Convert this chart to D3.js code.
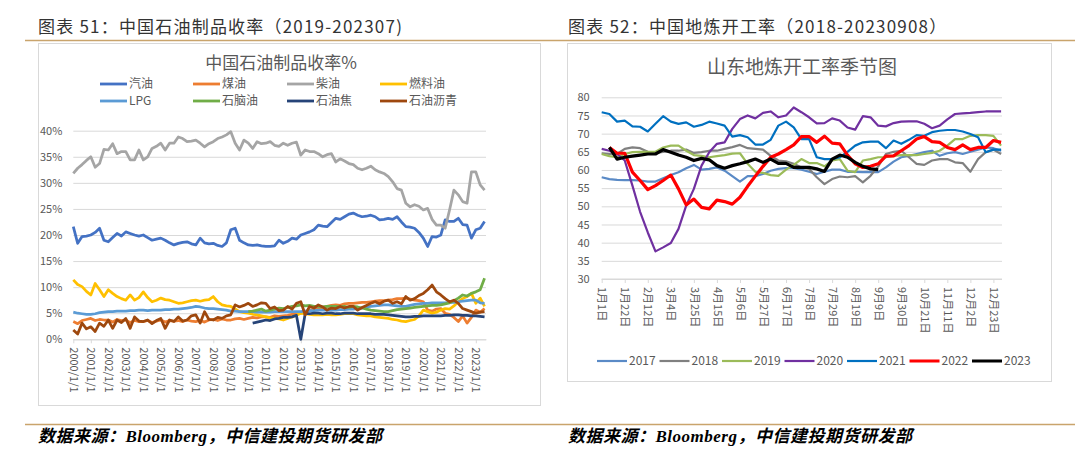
<!DOCTYPE html>
<html>
<head>
<meta charset="utf-8">
<script src="https://cdn.jsdelivr.net/npm/d3@7"></script>
<style>
  body { margin: 0; background: #fff; }
  svg { display: block; font-family: "Noto Sans CJK SC", "Noto Sans", sans-serif; }
</style>
</head>
<body>
<svg id="chart" width="1080" height="465"></svg>
<script>
// ---- left panel: quarterly yields (%), 2000Q1 .. 2023Q3 ----
const gasoline = [21.6,18.4,19.7,19.8, 20.0,20.5,21.3,19.0, 18.7,19.5,20.3,19.8, 20.6,20.3,20.0,19.8,
  20.0,19.5,19.0,19.2, 19.4,19.0,18.5,18.1, 18.4,18.6,18.7,18.3, 18.1,19.4,18.5,18.3,
  18.4,18.0,17.8,18.5, 21.0,21.3,19.0,18.5, 18.1,18.0,18.1,17.9, 17.8,17.8,17.9,19.0,
  18.4,18.8,19.4,19.2, 20.0,20.3,20.6,21.0, 21.9,21.7,21.6,22.4, 23.2,23.0,23.5,24.0,
  24.2,23.8,23.5,23.6, 23.8,23.5,22.9,23.0, 23.2,23.0,23.5,22.5, 21.6,21.5,21.3,20.5,
  19.4,17.8,19.7,19.6, 20.0,22.9,22.6,22.6, 23.2,22.0,21.9,19.4, 21.0,21.3,22.6];
const kerosene = [3.4,3.0,3.6,3.8, 4.0,3.6,3.8,3.7, 3.7,3.3,3.8,3.6, 3.7,3.2,3.6,3.4,
  3.4,3.6,3.2,3.5, 3.7,3.3,3.6,3.5, 3.6,3.4,3.7,3.5, 3.4,3.6,3.3,3.7,
  3.8,3.6,3.9,3.7, 3.7,3.9,4.0,3.8, 4.0,4.2,4.1,4.3, 4.3,4.2,4.5,4.4,
  4.5,4.6,4.8,4.9, 5.0,5.3,5.6,5.7, 5.9,6.1,6.3,6.5, 6.6,6.5,6.8,6.9,
  6.9,7.0,7.1,7.1, 7.2,7.3,7.4,7.4, 7.5,7.6,7.8,7.8, 7.9,7.7,7.5,7.4,
  7.2,5.6,5.4,5.8, 5.9,5.0,4.8,4.2, 3.4,4.5,3.1,4.2, 5.6,5.2,5.9];
const diesel = [31.8,32.8,33.5,34.3, 35.0,33.0,33.7,36.4, 36.3,37.5,35.6,36.0, 36.0,34.4,34.4,36.3,
  34.4,35.0,36.6,37.0, 37.6,36.3,37.6,37.6, 38.8,38.5,37.9,38.0, 38.2,37.6,36.9,37.5,
  37.9,38.5,38.8,39.2, 39.8,37.6,36.3,38.2, 37.6,36.6,37.9,37.5, 37.6,37.9,37.2,37.0,
  37.6,37.2,37.6,37.8, 35.3,36.3,36.0,36.0, 35.6,35.0,35.4,35.6, 34.0,34.6,34.2,33.7,
  33.5,32.8,32.5,32.8, 33.2,32.5,32.1,31.8, 31.2,30.2,28.9,28.6, 26.1,25.4,25.8,25.5,
  24.8,25.1,23.0,21.9, 21.9,21.3,24.8,28.6, 27.7,26.4,26.1,32.1, 32.1,29.6,28.6];
const fuelOil = [11.4,10.5,10.1,9.2, 8.5,10.7,9.5,8.2, 9.5,8.8,8.2,7.8, 7.5,8.5,7.5,8.0,
  9.1,8.0,7.2,7.5, 7.9,7.6,7.5,7.2, 6.9,7.0,7.2,7.4, 7.5,7.3,7.5,7.6,
  8.2,7.2,6.6,6.4, 6.3,5.8,5.3,5.1, 5.0,4.8,4.7,4.5, 4.3,4.1,4.0,3.9,
  3.7,4.0,4.3,4.6, 5.0,4.9,4.8,4.7, 4.7,4.7,4.8,4.7, 4.7,4.8,4.9,4.9,
  4.9,4.7,4.6,4.5, 4.5,4.3,4.2,4.1, 4.0,3.8,3.7,3.5, 3.4,3.6,3.8,4.5,
  5.6,5.3,5.0,5.2, 5.6,5.9,5.8,6.4, 7.2,7.8,8.2,8.8, 6.9,7.9,6.3];
const lpg = [5.2,5.0,4.9,4.8, 4.8,4.9,5.1,5.2, 5.3,5.3,5.4,5.4, 5.4,5.5,5.5,5.6,
  5.6,5.5,5.6,5.6, 5.6,5.7,5.7,5.8, 5.8,5.9,6.0,6.1, 6.3,6.2,6.0,5.9,
  5.9,5.8,5.7,5.6, 5.4,5.4,5.3,5.3, 5.3,5.3,5.2,5.2, 5.2,5.2,5.3,5.3,
  5.3,5.3,5.3,5.3, 5.3,5.4,5.5,5.5, 5.6,5.6,5.6,5.6, 5.6,5.7,5.7,5.8,
  5.8,5.9,6.0,6.2, 6.3,6.4,6.5,6.6, 6.6,6.5,6.4,6.3, 6.3,6.5,6.7,6.8,
  6.9,6.9,7.0,7.0, 7.0,7.0,7.1,7.1, 7.2,7.3,7.4,7.5, 7.5,7.0,6.9];
// naphtha from 2010Q1, petroleum coke from 2010Q2
const naphtha = [5.3,5.4,5.6,5.8, 5.4,5.6,5.8,6.0, 5.9,6.1,6.3,6.4, 6.6,6.4,6.5,6.3,
  6.3,6.2,6.3,6.3, 6.3,6.2,6.3,6.1, 6.3,6.2,6.0,5.8, 5.6,5.5,5.4,5.3,
  5.3,5.5,5.7,5.8, 5.9,6.0,6.1,6.2, 6.3,6.4,6.5,6.5, 6.6,6.8,7.0,7.4,
  7.9,8.5,8.3,8.8, 9.1,9.5,11.7];
const petCoke = [3.1,3.3,3.5, 3.7,3.6,3.9,4.0, 4.2,4.2,4.3,4.6, 0.0,4.9,4.9,5.0,
  5.0,4.9,5.0,5.0, 4.9,4.9,5.0,5.0, 5.0,4.9,4.9,4.9, 4.9,4.8,4.8,4.8,
  4.7,4.6,4.5,4.4, 4.3,4.3,4.4,4.4, 4.5,4.5,4.5,4.5, 4.5,4.6,4.6,4.7,
  4.7,4.6,4.6,4.5, 4.5,4.4,4.3];
const asphalt = [1.8,1.0,3.1,2.0, 2.4,1.5,3.1,2.5, 3.7,2.1,3.7,3.2, 4.0,2.1,4.3,3.5,
  3.4,3.7,3.0,3.6, 4.0,2.1,3.7,3.4, 4.3,3.5,3.7,4.5, 4.7,3.1,5.3,3.8,
  3.7,4.2,4.0,4.5, 4.7,6.6,6.2,6.5, 6.9,6.3,6.6,7.0, 6.9,5.9,6.2,5.5,
  5.6,6.3,5.8,6.9, 7.2,4.7,6.3,6.0, 6.6,6.2,5.6,6.0, 5.9,6.3,6.0,6.3,
  6.3,5.6,6.1,6.5, 6.9,7.2,6.8,7.3, 7.5,6.9,7.2,6.8, 8.2,7.5,7.8,8.4,
  8.8,9.5,10.4,9.1, 8.5,7.8,7.2,7.5, 6.9,5.9,5.6,5.3, 5.0,5.2,5.3];

const productNames = ['汽油', '煤油', '柴油', '燃料油', 'LPG', '石脑油', '石油焦', '石油沥青'];
const productColors = ['#4472c4', '#ed7d31', '#a5a5a5', '#ffc000', '#5b9bd5', '#70ad47', '#264478', '#9e480e'];
const productStart = [2000, 2000, 2000, 2000, 2000, 2010, 2010.25, 2000];
const productValues = [gasoline, kerosene, diesel, fuelOil, lpg, naphtha, petCoke, asphalt];
const yearTicks = d3.range(2000, 2024);
const pctTicks = [0, 5, 10, 15, 20, 25, 30, 35, 40];

// ---- right panel: weekly run rate (%), week 0 = 1月1日 ----
const weekLabels = ['1月1日', '1月22日', '2月12日', '3月4日', '3月25日', '4月15日', '5月6日', '5月27日', '6月17日',
  '7月8日', '7月29日', '8月19日', '9月9日', '9月30日', '10月21日', '11月11日', '12月2日', '12月23日'];
const seasonYears = ['2017', '2018', '2019', '2020', '2021', '2022', '2023'];
const seasonColors = ['#5a8ac6', '#808080', '#9bbb59', '#7030a0', '#0070c0', '#ff0000', '#000000'];
const seasonWidths = [2.2, 2.2, 2.2, 2.2, 2.2, 3.2, 3.2];
const run2017 = [58.0,57.5,57.3,57.2,57.2,57.1,56.8,56.8,57.7,58.6,59.4,60.5,61.4,60.1,60.3,60.7,59.8,58.3,
  56.8,58.3,58.3,58.9,59.8,60.3,60.5,60.5,60.1,59.5,58.9,59.5,60.1,60.1,59.5,59.5,59.4,59.5,
  59.4,60.7,62.3,63.5,63.9,64.4,64.9,65.3,63.9,64.6,64.9,64.4,65.0,65.6,66.2,66.0,65.3];
const run2018 = [64.6,64.4,64.4,65.8,66.2,66.0,65.0,64.7,65.0,65.3,65.3,65.6,64.7,64.9,65.3,65.3,65.8,66.3,
  66.9,66.0,65.8,65.6,63.9,62.6,62.4,61.7,60.7,60.3,58.0,56.1,57.5,58.2,58.0,58.3,56.6,58.4,
  61.0,64.4,65.0,65.3,63.5,61.7,61.4,62.6,63.0,63.0,62.1,61.9,59.5,63.0,64.9,65.6,64.4];
const run2019 = [64.4,63.8,63.5,64.4,64.9,65.0,65.0,65.0,66.2,66.7,66.7,65.3,64.1,63.9,63.5,63.8,64.1,64.5,
  64.6,61.7,59.5,59.2,58.6,58.4,60.1,61.4,63.0,61.9,61.9,61.0,62.6,63.0,59.8,59.4,62.6,63.0,
  63.5,63.5,63.9,64.1,64.1,64.1,64.4,64.7,65.3,66.7,68.5,68.5,69.4,69.6,69.6,69.4,66.7];
const run2020 = [65.8,65.3,64.4,62.6,55.7,48.5,42.8,37.6,38.7,39.9,43.8,50.2,54.8,61.2,64.9,67.2,67.6,71.3,
  74.0,75.0,74.2,75.7,76.1,74.5,75.0,77.2,75.9,74.5,72.8,72.9,74.2,73.6,71.7,71.1,74.8,74.5,
  72.2,72.0,72.9,73.3,73.4,73.4,72.7,71.5,72.2,73.9,75.4,75.6,75.7,75.9,76.1,76.1,76.1];
const run2021 = [75.9,75.4,73.3,73.6,72.0,71.9,70.6,72.7,74.8,73.3,72.7,73.1,71.9,72.4,73.3,72.8,72.2,69.2,
  69.6,69.0,67.0,67.0,68.3,72.2,73.3,71.7,68.5,68.5,63.5,63.0,63.0,63.5,65.0,66.7,67.6,67.8,
  67.8,66.0,68.1,67.2,68.3,69.6,69.4,70.4,70.8,71.0,71.0,70.6,69.9,69.0,64.9,65.6,65.6];
const run2022 = [null,66.2,64.6,64.6,59.4,57.1,54.6,55.7,57.1,58.6,54.8,50.4,52.0,49.7,49.3,51.7,51.3,50.6,
  52.5,55.5,58.3,61.0,63.5,64.4,65.6,66.9,69.2,69.2,67.6,69.3,67.4,67.2,64.1,61.7,60.7,61.0,
  61.7,63.8,63.9,65.3,66.7,68.5,69.2,67.8,67.6,66.2,65.6,66.9,65.6,66.2,66.2,68.1,67.6];
const run2023 = [null,66.2,63.0,63.5,63.8,64.1,64.4,64.4,65.6,64.9,64.1,63.5,62.6,63.2,62.8,61.2,60.5,61.2,
  61.7,62.3,63.0,62.1,63.0,61.8,61.8,60.7,60.7,60.7,60.3,59.6,63.0,64.1,63.5,62.1,61.0,60.3,
  60.1];
const seasonValues = [run2017, run2018, run2019, run2020, run2021, run2022, run2023];
const rateTicks = [30, 35, 40, 45, 50, 55, 60, 65, 70, 75, 80];

const TEXT = '#595959';
const GRID = '#d9d9d9';
const FONT = '"Noto Sans CJK SC", "Noto Sans", sans-serif';

const svg = d3.select('#chart');
svg.append('rect').attr('width', 1080).attr('height', 465).attr('fill', '#fff');

// page frame: headers, rules, sources
const rule = '#c9a46c';
svg.append('line').attr('x1', 25).attr('x2', 1075).attr('y1', 40.5).attr('y2', 40.5)
  .attr('stroke', rule).attr('stroke-width', 1.5);
svg.append('line').attr('x1', 25).attr('x2', 1075).attr('y1', 424.5).attr('y2', 424.5)
  .attr('stroke', rule).attr('stroke-width', 1.5);

[[38, '图表 51：中国石油制品收率（2019-202307)'], [568, '图表 52：中国地炼开工率（2018-20230908）']].forEach(([x, t]) => {
  svg.append('text').attr('x', x).attr('y', 33).attr('font-size', 17).attr('letter-spacing', 1.2)
    .attr('fill', '#333').text(t);
});
[38, 568].forEach(x => {
  svg.append('text').attr('x', x).attr('y', 442)
    .attr('font-family', '"Liberation Serif", "Noto Sans CJK SC", serif')
    .attr('font-size', 17).attr('letter-spacing', 0.5).attr('font-weight', 'bold').attr('font-style', 'italic')
    .attr('fill', '#000').text('数据来源：Bloomberg，中信建投期货研发部');
});

// chart boxes
svg.append('rect').attr('x', 38.5).attr('y', 43.5).attr('width', 502).attr('height', 362)
  .attr('fill', '#fff').attr('stroke', GRID);
svg.append('rect').attr('x', 567.5).attr('y', 43.5).attr('width', 484).attr('height', 338)
  .attr('fill', '#fff').attr('stroke', GRID);

function styleAxis(g) {
  g.attr('font-family', FONT).attr('font-size', 11);
  g.selectAll('text').attr('fill', TEXT);
}

/* ---------- left: 中国石油制品收率 ---------- */
const lx = d3.scaleLinear().domain([2000, 2023.583]).range([73.3, 486]);
const ly = d3.scaleLinear().domain([0, 40]).range([339.3, 130.7]);

svg.append('text').attr('x', 281).attr('y', 69).attr('text-anchor', 'middle')
  .attr('font-size', 17).attr('fill', TEXT).text('中国石油制品收率%');

const lLegend = svg.append('g');
productNames.forEach((name, i) => {
  const x = [100, 193, 287, 380][i % 4];
  const y = i < 4 ? 84 : 101;
  lLegend.append('line').attr('x1', x).attr('x2', x + 27).attr('y1', y).attr('y2', y)
    .attr('stroke', productColors[i]).attr('stroke-width', 2.8);
  lLegend.append('text').attr('x', x + 29).attr('y', y).attr('dy', '0.36em')
    .attr('font-size', 12).attr('fill', TEXT).text(name);
});

svg.append('g').attr('transform', 'translate(73.3,0)')
  .call(d3.axisLeft(ly).tickValues(pctTicks).tickSize(-(486 - 73.3)).tickPadding(11).tickFormat(d => d + '%'))
  .call(g => g.select('.domain').remove())
  .call(g => g.selectAll('.tick line').attr('stroke', GRID))
  .call(styleAxis);

svg.append('g').attr('transform', `translate(0,${ly(0)})`)
  .call(d3.axisBottom(lx).tickValues(yearTicks).tickSize(4).tickSizeOuter(0).tickFormat(d => d + '/1/1'))
  .call(g => g.select('.domain').attr('stroke', GRID))
  .call(g => g.selectAll('.tick line').attr('stroke', GRID))
  .call(styleAxis)
  .call(g => g.selectAll('text').attr('transform', 'rotate(90)').attr('x', 8).attr('y', 0)
    .attr('dy', '0.35em').attr('text-anchor', 'start'));

const lPlot = svg.append('g');
productValues.forEach((vals, i) => {
  const line = d3.line()
    .defined(d => d != null)
    .x((d, j) => lx(productStart[i] + j * 0.25))
    .y(d => ly(d));
  lPlot.append('path').datum(vals).attr('d', line)
    .attr('fill', 'none').attr('stroke', productColors[i]).attr('stroke-width', 2.75)
    .attr('stroke-linejoin', 'round');
});

/* ---------- right: 山东地炼开工率季节图 ---------- */
const rx = d3.scaleLinear().domain([0, 52]).range([601.7, 1001.1]);
const ry = d3.scaleLinear().domain([30, 80]).range([279, 97.3]);

svg.append('text').attr('x', 802).attr('y', 74).attr('text-anchor', 'middle')
  .attr('font-size', 19).attr('fill', TEXT).text('山东地炼开工率季节图');

svg.append('g').attr('transform', 'translate(601.7,0)')
  .call(d3.axisLeft(ry).tickValues(rateTicks).tickSize(-(1002 - 601.7)).tickPadding(12))
  .call(g => g.select('.domain').remove())
  .call(g => g.selectAll('.tick line').attr('stroke', GRID))
  .call(styleAxis);

svg.append('g').attr('transform', `translate(0,${ry(30)})`)
  .call(d3.axisBottom(rx).tickValues(weekLabels.map((_, i) => i * 3)).tickSize(4).tickSizeOuter(0)
    .tickFormat((d, i) => weekLabels[i]))
  .call(g => g.select('.domain').attr('stroke', GRID).attr('d', `M${rx(0)},0H1002`))
  .call(g => g.selectAll('.tick line').attr('stroke', GRID))
  .call(styleAxis)
  .call(g => g.selectAll('text').attr('transform', 'rotate(90)').attr('x', 8).attr('y', 0)
    .attr('dy', '0.35em').attr('text-anchor', 'start'));

const rPlot = svg.append('g');
seasonValues.forEach((vals, i) => {
  const line = d3.line()
    .defined(d => d != null)
    .x((d, j) => rx(j))
    .y(d => ry(d));
  rPlot.append('path').datum(vals).attr('d', line)
    .attr('fill', 'none').attr('stroke', seasonColors[i]).attr('stroke-width', seasonWidths[i])
    .attr('stroke-linejoin', 'round');
});

const rLegend = svg.append('g');
seasonYears.forEach((yr, i) => {
  const x = 597 + i * 62.5;
  const y = 361;
  rLegend.append('line').attr('x1', x).attr('x2', x + 30).attr('y1', y).attr('y2', y)
    .attr('stroke', seasonColors[i]).attr('stroke-width', i >= 5 ? 3 : 2.2);
  rLegend.append('text').attr('x', x + 32).attr('y', y).attr('dy', '0.36em')
    .attr('font-size', 12).attr('fill', TEXT).text(yr);
});
</script>
</body>
</html>
